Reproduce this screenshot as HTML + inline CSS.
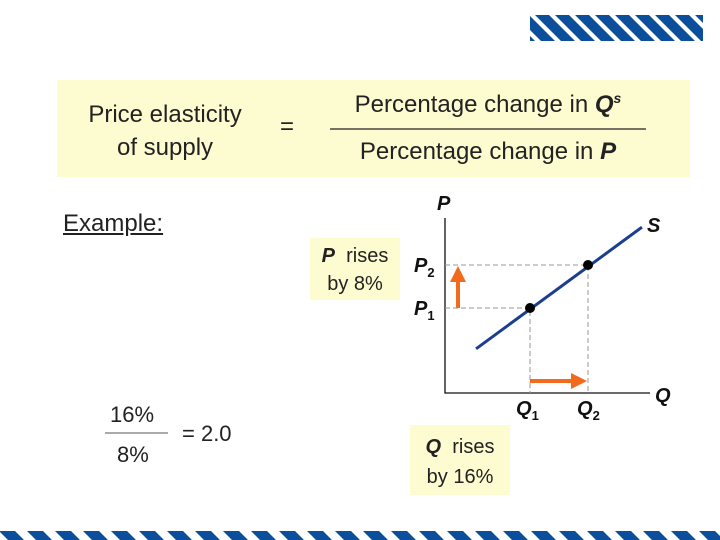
<!DOCTYPE html>
<html><head><meta charset="utf-8"><style>
body{margin:0;width:720px;height:540px;background:#fff;overflow:hidden;position:relative;font-family:"Liberation Sans",sans-serif;color:#222}
.a{position:absolute}
</style></head><body>
<svg class="a" style="left:0;top:0" width="720" height="540">
<defs>
<pattern id="st" patternUnits="userSpaceOnUse" width="20" height="26" patternTransform="skewX(45)">
<rect width="20" height="26" fill="#0b4f9c"/><rect x="14" width="6" height="26" fill="#fff"/></pattern>
<pattern id="st2" patternUnits="userSpaceOnUse" width="28" height="10" patternTransform="skewX(45)">
<rect width="28" height="10" fill="#0b4f9c"/><rect x="16" width="12" height="10" fill="#fff"/></pattern>
<marker id="ah" markerWidth="4" markerHeight="4" refX="2" refY="2" orient="auto"><path d="M0,0L4,2L0,4z" fill="#f26b1d"/></marker>
</defs>
<rect x="530" y="15" width="173" height="26" fill="url(#st)"/>
<rect x="0" y="531" width="720" height="9" fill="url(#st2)"/>
<rect x="57" y="80" width="633" height="97" fill="#fdfbd0"/>
<line x1="330" y1="129" x2="646" y2="129" stroke="#222" stroke-width="1.2"/>
<rect x="310" y="238" width="90" height="62" fill="#fdfbd0"/>
<rect x="410" y="425" width="100" height="70" fill="#fdfbd0"/>
<line x1="105" y1="433" x2="168" y2="433" stroke="#555" stroke-width="1"/>
<g id="chart"></g>
</svg>
<div class="a" style="left:60px;top:98px;width:210px;text-align:center;font-size:24px;line-height:33px">Price elasticity<br>of supply</div>
<div class="a" style="left:280px;top:113px;font-size:24px">=</div>
<div class="a" style="left:330px;top:90px;width:316px;text-align:center;font-size:24px">Percentage change in <b><i>Q</i></b><sup style="font-size:14px;font-weight:bold;font-style:italic">s</sup></div>
<div class="a" style="left:330px;top:138px;width:316px;text-align:center;font-size:24px">Percentage change in <b><i>P</i></b></div>
<div class="a" style="left:63px;top:210px;font-size:24px;text-decoration:underline">Example:</div>
<div class="a" style="left:310px;top:242px;width:90px;text-align:center;font-size:20px;line-height:28px"><b><i>P</i></b>&nbsp; rises<br>by 8%</div>
<div class="a" style="left:410px;top:432px;width:100px;text-align:center;font-size:20px;line-height:30px"><b><i>Q</i></b>&nbsp; rises<br>by 16%</div>
<div class="a" style="left:110px;top:402px;font-size:22px">16%</div>
<div class="a" style="left:117px;top:442px;font-size:22px">8%</div>
<div class="a" style="left:182px;top:421px;font-size:22px">= 2.0</div>
<script>
const pLabels=["P1","P2"];
const pValues=[1,2];
const qValues=[1,2];
const supplyEnds=[[0.07,0.05],[2.93,2.88]];
const X=q=>445+ (q-1)*58+85;
const Y=p=>393-(p-1)*43-85;
const ns="http://www.w3.org/2000/svg";
const g=document.getElementById('chart');
function el(t,a){const e=document.createElementNS(ns,t);for(const k in a)e.setAttribute(k,a[k]);g.appendChild(e);return e;}
let e;
e=el('path',{d:'M445,218 L445,393 L650,393',fill:'none',stroke:'#111','stroke-width':1.3});


for(let i=0;i<2;i++){
 e=el('path',{d:`M445,${Y(pValues[i])} H${X(qValues[i])} V393`,fill:'none',stroke:'#999','stroke-dasharray':'5,3','stroke-width':1});
 
 
}
e=el('line',{x1:X(supplyEnds[0][0]),y1:Y(supplyEnds[0][1]),x2:X(supplyEnds[1][0]),y2:Y(supplyEnds[1][1]),stroke:'#1a3f8f','stroke-width':3});


for(let i=0;i<2;i++){
 e=el('circle',{cx:X(qValues[i]),cy:Y(pValues[i]),r:5,fill:'#000'});
 
 
}
e=el('line',{x1:458,y1:Y(pValues[0]),x2:458,y2:Y(pValues[1])+9,stroke:'#f26b1d','stroke-width':4,'marker-end':'url(#ah)'});


e=el('line',{x1:X(qValues[0]),y1:381,x2:X(qValues[1])-9,y2:381,stroke:'#f26b1d','stroke-width':4,'marker-end':'url(#ah)'});


function txt(s,x,y,sub,name){const t=el('text',{x:x,y:y,'font-size':20,'font-weight':'bold','font-style':'italic','font-family':'Liberation Sans, sans-serif',fill:'#111'});t.textContent=s;
 if(sub){const ts=document.createElementNS(ns,'tspan');ts.setAttribute('font-size',13);ts.setAttribute('font-style','normal');ts.setAttribute('dy',5);ts.textContent=sub;t.appendChild(ts);}
 
 }
txt('P',437,210,'','y-axis-title');
txt('Q',655,402,'','x-axis-title');
txt('S',647,232,'','supply-label');
txt('P',414,272,'2','p2-label');
txt('P',414,315,'1','p1-label');
txt('Q',516,415,'1','q1-label');
txt('Q',577,415,'2','q2-label');
</script>
</body></html>
